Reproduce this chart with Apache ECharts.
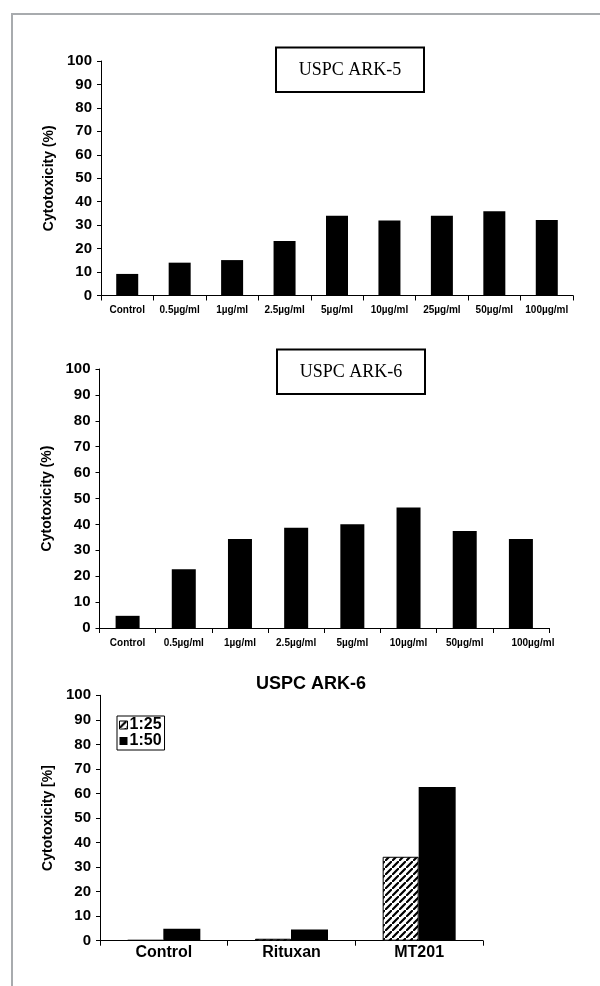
<!DOCTYPE html>
<html>
<head>
<meta charset="utf-8">
<script src="https://cdn.jsdelivr.net/npm/echarts@6/dist/echarts.min.js"></script>
<style>
html,body{margin:0;padding:0;background:#fff;}
#main{width:600px;height:986px;}
</style>
</head>
<body>
<div id="main"></div>
<script>
// ---- Data ----
var yTicks = [0, 10, 20, 30, 40, 50, 60, 70, 80, 90, 100];

var ark5Title = 'USPC ARK-5';
var ark5Categories = ['Control', '0.5µg/ml', '1µg/ml', '2.5µg/ml', '5µg/ml', '10µg/ml', '25µg/ml', '50µg/ml', '100µg/ml'];
var ark5Values = [9.2, 14, 15.1, 23.2, 34, 32, 34, 35.9, 32.2];

var ark6Title = 'USPC ARK-6';
var ark6Categories = ['Control', '0.5µg/ml', '1µg/ml', '2.5µg/ml', '5µg/ml', '10µg/ml', '50µg/ml', '100µg/ml'];
var ark6Values = [4.7, 22.7, 34.4, 38.7, 40.1, 46.5, 37.5, 34.4];

var ratioTitle = 'USPC ARK-6';
var ratioCategories = ['Control', 'Rituxan', 'MT201'];
var ratio125 = [0.3, 0.8, 34.2];
var ratio150 = [4.9, 4.6, 62.6];
var ratioNames = ['1:25', '1:50'];

var yName1 = 'Cytotoxicity (%)';
var yName3 = 'Cytotoxicity [%]';

// ---- Hatch pattern ----
function makeHatch() {
  var s = 7;
  var c = document.createElement('canvas');
  c.width = s; c.height = s;
  var g = c.getContext('2d');
  g.fillStyle = '#fff';
  g.fillRect(0, 0, s, s);
  g.strokeStyle = '#000';
  g.lineWidth = 2.2;
  g.beginPath();
  g.moveTo(-1, s + 1); g.lineTo(s + 1, -1);
  g.moveTo(-s - 1, 1); g.lineTo(1, -s - 1);
  g.moveTo(s - 1, 2 * s + 1); g.lineTo(2 * s + 1, s - 1);
  g.stroke();
  return c;
}
var hatch = { image: makeHatch(), repeat: 'repeat' };

var FONT = 'Arial, "Liberation Sans", sans-serif';

function yAxis(gridIndex, name) {
  return {
    type: 'value', gridIndex: gridIndex, min: yTicks[0], max: yTicks[yTicks.length - 1], interval: yTicks[1] - yTicks[0],
    name: name, nameLocation: 'middle', nameGap: 45, nameRotate: 90,
    nameTextStyle: { fontFamily: FONT, fontWeight: 'bold', fontSize: 14, color: '#000' },
    axisLine: { show: true, lineStyle: { color: '#000', width: 1 } },
    axisTick: { show: true, length: 4, lineStyle: { color: '#000' } },
    axisLabel: { fontFamily: FONT, fontWeight: 'bold', fontSize: 15, color: '#000', margin: 9 },
    splitLine: { show: false }
  };
}
function xAxis(gridIndex, cats, fs, margin) {
  return {
    type: 'category', gridIndex: gridIndex, data: cats,
    axisLine: { show: true, lineStyle: { color: '#000', width: 1 } },
    axisTick: { show: true, length: 5, alignWithLabel: false, lineStyle: { color: '#000' } },
    axisLabel: { fontFamily: FONT, fontWeight: 'bold', fontSize: fs, color: '#000', margin: margin, interval: 0 }
  };
}

// last label of the second chart sits a little right of its slot in the original
var ark6AxisData = ark6Categories.map(function (c, i) {
  return i === ark6Categories.length - 1 ? { value: c, textStyle: { padding: [0, 0, 0, 24] } } : c;
});

var chart = echarts.init(document.getElementById('main'), null, { renderer: 'canvas' });

var option = {
  backgroundColor: '#fff',
  animation: false,
  grid: [
    { left: 101, top: 61, width: 472, height: 234.5 },
    { left: 99.5, top: 369, width: 449.5, height: 259 },
    { left: 100, top: 695.3, width: 383, height: 245.4 }
  ],
  xAxis: [
    xAxis(0, ark5Categories, 10, 10),
    xAxis(1, ark6AxisData, 10, 10),
    xAxis(2, ratioCategories, 16, 4)
  ],
  yAxis: [
    yAxis(0, yName1),
    yAxis(1, yName1),
    yAxis(2, yName3)
  ],
  legend: {
    data: [
      { name: ratioNames[0], icon: 'rect', itemStyle: { color: hatch, borderColor: '#000', borderWidth: 1 } },
      { name: ratioNames[1], icon: 'rect' }
    ],
    orient: 'vertical', left: 117, top: 716,
    itemWidth: 8, itemHeight: 8, itemGap: 0,
    padding: [1, 3, 1, 2],
    borderColor: '#000', borderWidth: 1, backgroundColor: '#fff',
    textStyle: { fontFamily: FONT, fontWeight: 'bold', fontSize: 16, lineHeight: 16, color: '#000', padding: [0, 0, 0, -3] }
  },
  series: [
    { type: 'bar', xAxisIndex: 0, yAxisIndex: 0, data: ark5Values, barWidth: 22, itemStyle: { color: '#000' } },
    { type: 'bar', xAxisIndex: 1, yAxisIndex: 1, data: ark6Values, barWidth: 24, itemStyle: { color: '#000' } },
    { type: 'bar', name: ratioNames[0], xAxisIndex: 2, yAxisIndex: 2, data: ratio125, barWidth: 36, barGap: '0%',
      itemStyle: { color: hatch, borderColor: '#000', borderWidth: 1 } },
    { type: 'bar', name: ratioNames[1], xAxisIndex: 2, yAxisIndex: 2, data: ratio150, barWidth: 37, barGap: '0%',
      itemStyle: { color: '#000' } }
  ],
  graphic: [
    // outer frame
    { type: 'polyline', shape: { points: [[12, 986], [12, 14], [600, 14]] }, style: { stroke: '#a8abae', lineWidth: 2, fill: null } },
    // title boxes
    { type: 'rect', shape: { x: 276, y: 47.5, width: 148, height: 44.5 }, style: { fill: '#fff', stroke: '#000', lineWidth: 2 } },
    { type: 'text', x: 350, y: 70, style: { text: ark5Title, font: '18px "Liberation Serif", "Times New Roman", serif', fill: '#000', align: 'center', verticalAlign: 'middle' } },
    { type: 'rect', shape: { x: 277, y: 349.5, width: 148, height: 44.5 }, style: { fill: '#fff', stroke: '#000', lineWidth: 2 } },
    { type: 'text', x: 351, y: 372, style: { text: ark6Title, font: '18px "Liberation Serif", "Times New Roman", serif', fill: '#000', align: 'center', verticalAlign: 'middle' } },
    { type: 'text', x: 311, y: 684, style: { text: ratioTitle, font: 'bold 18px Arial, "Liberation Sans", sans-serif', fill: '#000', align: 'center', verticalAlign: 'middle' } }
  ]
};
chart.setOption(option);
</script>
</body>
</html>
